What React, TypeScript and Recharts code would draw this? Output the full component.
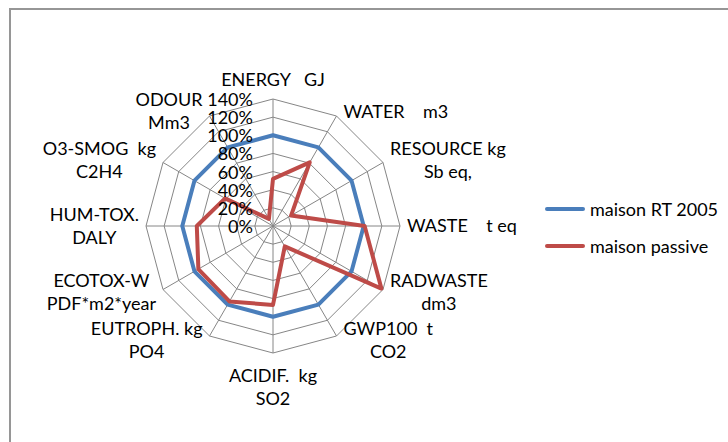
import React from "react";
import {
  RadarChart,
  Radar,
  PolarGrid,
  PolarAngleAxis,
  PolarRadiusAxis,
  Legend,
} from "recharts";

// axis labels, "\n" splits a label over two lines
const CATEGORIES = [
  "ENERGY   GJ",
  "WATER    m3",
  "RESOURCE kg\nSb eq,",
  "WASTE    t eq",
  "RADWASTE\ndm3",
  "GWP100  t\nCO2",
  "ACIDIF.  kg\nSO2",
  "EUTROPH. kg\nPO4",
  "ECOTOX-W\nPDF*m2*year",
  "HUM-TOX.\nDALY",
  "O3-SMOG  kg\nC2H4",
  "ODOUR\nMm3",
];

const RT2005 = [100, 100, 100, 100, 100, 100, 100, 100, 100, 100, 100, 100];
const PASSIVE = [52, 81, 23, 101, 138, 26, 87, 96, 95, 84, 61, 9];

const RADIUS_TICKS = [0, 20, 40, 60, 80, 100, 120, 140];

const SERIES = [
  { key: "rt2005", name: "maison RT 2005", color: "#4A7EBB" },
  { key: "passive", name: "maison passive", color: "#BE4B48" },
];

const data = CATEGORIES.map((label, i) => ({
  label,
  rt2005: RT2005[i],
  passive: PASSIVE[i],
}));

const CX = 273;
const CY = 226;
const R = 127;
const FONT_FAMILY = "Lato";
const FONT_SIZE = 18;
const LINE_H = 23;

let ctx: CanvasRenderingContext2D | null = null;
const measure = (s: string) => {
  if (!ctx) ctx = document.createElement("canvas").getContext("2d");
  if (!ctx) return s.length * 9;
  ctx.font = `${FONT_SIZE}px ${FONT_FAMILY}`;
  return ctx.measureText(s).width;
};

const AngleTick = (props: any) => {
  const { payload } = props;
  const rad = (-payload.coordinate * Math.PI) / 180;
  const cos = Math.cos(rad);
  const sin = Math.sin(rad);
  const vx = CX + R * cos;
  const vy = CY + R * sin;
  const lines = String(payload.value).split("\n");
  const w = Math.max(...lines.map(measure));
  const h = lines.length * LINE_H;

  let midX: number;
  let topY: number;
  if (Math.abs(cos) < 1e-3) {
    midX = vx;
    topY = sin < 0 ? vy - 8 - h : vy + 11;
  } else {
    midX = cos > 0 ? vx + 7 + w / 2 : vx - 7 - w / 2;
    topY = vy + 5 * sin - h / 2;
  }

  return (
    <text
      textAnchor="middle"
      fontFamily={FONT_FAMILY}
      fontSize={FONT_SIZE}
      fill="#000"
      style={{ whiteSpace: "pre" }}
    >
      {lines.map((l, i) => (
        <tspan key={i} x={midX} y={topY + LINE_H * (i + 0.5) + 6}>
          {l}
        </tspan>
      ))}
    </text>
  );
};

const RadiusTick = (props: any) => {
  const { x, y, payload } = props;
  return (
    <text
      x={x - 20}
      y={y + 7}
      textAnchor="end"
      fontFamily={FONT_FAMILY}
      fontSize={FONT_SIZE}
      fill="#000"
    >
      {payload.value}%
    </text>
  );
};

const LegendContent = () => (
  <div style={{ fontFamily: FONT_FAMILY, fontSize: FONT_SIZE, color: "#000" }}>
    {SERIES.map((s) => (
      <div
        key={s.key}
        style={{ display: "flex", alignItems: "center", height: 37, whiteSpace: "nowrap" }}
      >
        <span
          style={{
            display: "inline-block",
            width: 40,
            height: 4,
            borderRadius: 2,
            background: s.color,
            marginRight: 5,
          }}
        />
        <span>{s.name}</span>
      </div>
    ))}
  </div>
);

export default function App() {
  return (
    <div
      style={{
        position: "fixed",
        left: 0,
        top: 0,
        width: 728,
        height: 442,
        overflow: "hidden",
        background: "#fff",
      }}
    >
      <div
        style={{
          position: "absolute",
          left: 9,
          top: 8,
          width: 760,
          height: 480,
          border: "2px solid #969696",
        }}
      />
      <div style={{ position: "absolute", left: 0, top: 0 }}>
        <RadarChart
          width={728}
          height={442}
          data={data}
          cx={CX}
          cy={CY}
          outerRadius={R}
          margin={{ top: 0, right: 0, bottom: 0, left: 0 }}
        >
          <PolarGrid gridType="polygon" stroke="#868686" strokeWidth={1} />
          <PolarAngleAxis
            dataKey="label"
            tick={<AngleTick />}
            axisLine={false}
            tickLine={false}
          />
          <PolarRadiusAxis
            angle={90}
            domain={[0, 140]}
            ticks={RADIUS_TICKS as any}
            tickCount={8}
            tick={<RadiusTick />}
            axisLine={false}
            tickLine={false}
          />
          {SERIES.map((s) => (
            <Radar
              key={s.key}
              name={s.name}
              dataKey={s.key}
              stroke={s.color}
              strokeWidth={4}
              strokeLinejoin="round"
              fill="none"
              fillOpacity={0}
              dot={false}
              isAnimationActive={false}
            />
          ))}
          <Legend
            layout="vertical"
            align="right"
            verticalAlign="middle"
            content={<LegendContent />}
            wrapperStyle={{ left: 545, top: 190.5, width: 180 }}
          />
        </RadarChart>
      </div>
    </div>
  );
}
